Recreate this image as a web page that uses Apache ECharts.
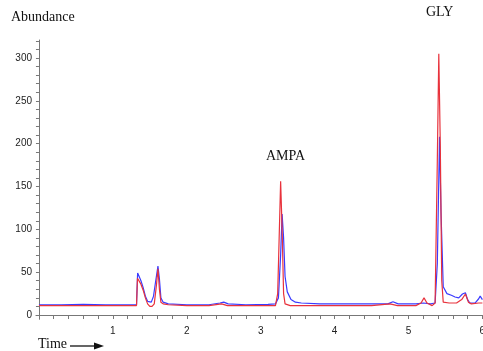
<!DOCTYPE html>
<html>
<head>
<meta charset="utf-8">
<script src="https://cdn.jsdelivr.net/npm/echarts@6/dist/echarts.min.js"></script>
<style>
  html, body { margin: 0; padding: 0; background: #fff; }
  #chart { width: 483px; height: 351px; }
</style>
</head>
<body>
<div id="chart"></div>
<script>
// blue trace (time, abundance)
const blueTime = [0, 0.3, 0.6, 0.9, 1.2, 1.32, 1.335, 1.35, 1.38, 1.41, 1.44, 1.47, 1.49, 1.52, 1.55, 1.58, 1.61, 1.63, 1.65, 1.68, 1.75,
  2.0, 2.3, 2.45, 2.5, 2.56, 2.8, 3.1, 3.2, 3.24, 3.27, 3.29, 3.31, 3.33, 3.36, 3.41, 3.47, 3.55, 3.8,
  4.2, 4.5, 4.72, 4.79, 4.86, 5.1, 5.2, 5.3, 5.36, 5.39, 5.42, 5.44, 5.47, 5.52, 5.58, 5.63, 5.68, 5.73, 5.75, 5.77, 5.8, 5.83, 5.9, 5.95, 5.97, 6.0];
const blueAbund = [12, 12, 12.5, 12, 12, 12, 49, 46, 40, 32, 22, 16, 14, 15, 22, 40, 57, 42, 20, 15, 13,
  12, 12, 14, 15, 13, 12, 12.5, 13, 20, 70, 118, 90, 45, 27, 18, 15, 14, 13,
  13, 13, 13, 15.5, 13, 13, 14, 13, 14, 60, 208, 120, 33, 25, 23, 21, 20, 24.5, 23, 26, 18, 14, 14, 19, 22, 18];

// red trace (time, abundance)
const redTime = [0, 0.3, 0.6, 0.9, 1.2, 1.32, 1.333, 1.35, 1.38, 1.41, 1.44, 1.47, 1.5, 1.53, 1.56, 1.59, 1.61, 1.63, 1.65, 1.68, 1.75,
  2.0, 2.3, 2.47, 2.55, 2.8, 3.1, 3.2, 3.23, 3.25, 3.27, 3.29, 3.31, 3.33, 3.4, 3.8,
  4.2, 4.5, 4.75, 4.85, 5.1, 5.17, 5.21, 5.25, 5.32, 5.36, 5.39, 5.41, 5.43, 5.45, 5.47, 5.55, 5.65, 5.72, 5.77, 5.81, 5.85, 5.95, 6.0];
const redAbund = [11, 11, 11, 11, 11, 11, 43, 41, 36, 29, 20, 13, 10, 10, 13, 35, 54, 30, 15, 13, 12,
  11, 11, 13, 11, 11, 11, 11, 25, 90, 156, 100, 25, 13, 11, 11,
  11, 11, 13, 11, 11, 14, 20, 14, 11, 14, 180, 305, 200, 40, 15, 14, 14, 18, 24.5, 15, 13, 14, 14];

const yLabels = [0, 50, 100, 150, 200, 250, 300];
const yTicks = [0, 10, 20, 30, 40, 50, 60, 70, 80, 90, 100, 110, 120, 130, 140, 150, 160, 170, 180, 190, 200,
  210, 220, 230, 240, 250, 260, 270, 280, 290, 300, 310, 320];
const xLabels = [1, 2, 3, 4, 5, 6];
const xTicks = [0, 0.2, 0.4, 0.6, 0.8, 1, 1.2, 1.4, 1.6, 1.8, 2, 2.2, 2.4, 2.6, 2.8, 3, 3.2, 3.4, 3.6, 3.8,
  4, 4.2, 4.4, 4.6, 4.8, 5, 5.2, 5.4, 5.6, 5.8, 6];

const pair = (ts, vs) => ts.map((t, i) => [t, vs[i]]);

const chart = echarts.init(document.getElementById('chart'));
const axisFont = { fontFamily: 'Liberation Sans', fontSize: 10, color: '#222' };
const serif = 'Liberation Serif';

chart.setOption({
  animation: false,
  grid: { left: 36, right: 0.6, top: 40, bottom: 31.7, containLabel: false, outerBoundsMode: 'none' },
  xAxis: {
    type: 'value',
    min: -0.04,
    max: 6,
    splitLine: { show: false },
    axisLine: { lineStyle: { color: '#777', width: 1 } },
    axisTick: { customValues: xTicks, length: 4, lineStyle: { color: '#777' } },
    axisLabel: Object.assign({ customValues: xLabels, margin: 7 }, axisFont)
  },
  yAxis: {
    type: 'value',
    min: -5,
    max: 321,
    splitLine: { show: false },
    axisLine: { show: true, lineStyle: { color: '#777', width: 1 } },
    axisTick: { customValues: yTicks, length: 3, lineStyle: { color: '#777' } },
    axisLabel: Object.assign({ customValues: yLabels, margin: 4 }, axisFont)
  },
  graphic: [
    { type: 'text', left: 11, top: 10, style: { text: 'Abundance', font: '14px ' + serif, fill: '#111' } },
    { type: 'text', left: 38, top: 337, style: { text: 'Time', font: '14px ' + serif, fill: '#111' } },
    { type: 'line', shape: { x1: 70, y1: 346, x2: 97, y2: 346 }, style: { stroke: '#111', lineWidth: 1.3 } },
    { type: 'polygon', shape: { points: [[104, 346], [94, 342.5], [94, 349.5]] }, style: { fill: '#111' } },
    { type: 'text', left: 266, top: 149, style: { text: 'AMPA', font: '14px ' + serif, fill: '#111' } },
    { type: 'text', left: 426, top: 5, style: { text: 'GLY', font: '14px ' + serif, fill: '#111' } }
  ],
  series: [
    {
      name: 'blue',
      type: 'line',
      symbol: 'none',
      data: pair(blueTime, blueAbund),
      lineStyle: { color: '#3b3bff', width: 1.2 }
    },
    {
      name: 'red',
      type: 'line',
      symbol: 'none',
      data: pair(redTime, redAbund),
      lineStyle: { color: '#e8323c', width: 1.2 }
    }
  ]
});
</script>
</body>
</html>
